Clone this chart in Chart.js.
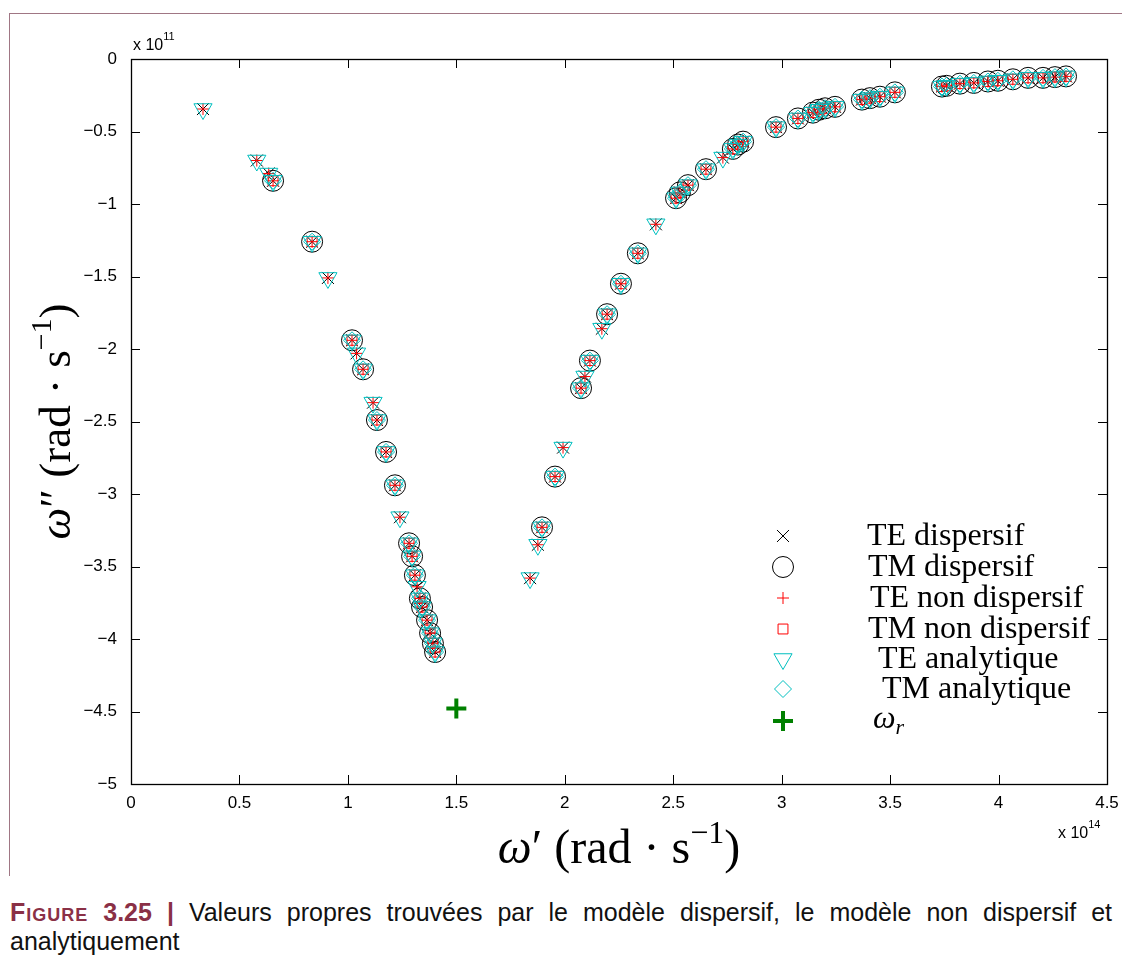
<!DOCTYPE html>
<html>
<head>
<meta charset="utf-8">
<script src="https://cdn.jsdelivr.net/npm/chart.js@4.4.0/dist/chart.umd.min.js"></script>
<style>
  html, body { margin: 0; padding: 0; background: #fff; width: 1122px; height: 971px; overflow: hidden; }
  #frame { position: absolute; left: 9px; top: 13px; width: 1113px; height: 862px;
           border-top: 1px solid #a07684; border-left: 1px solid #a07684; }
  #chart { position: absolute; left: 0; top: 0; }
  #caption { position: absolute; left: 10px; top: 898px; width: 1102px;
             font-family: "Liberation Sans", Arial, sans-serif; font-size: 25px; line-height: 29px;
             color: #111; text-align: justify; }
  .fig { color: #8a3046; font-weight: bold; }
  .sc { font-variant: small-caps; letter-spacing: 1px; }
</style>
</head>
<body>
<div id="frame"></div>
<canvas id="chart" width="1122" height="880"></canvas>
<div id="caption"><span class="fig"><span class="sc">Figure</span> 3.25 |</span> Valeurs propres trouvées par le modèle dispersif, le modèle non dispersif et analytiquement</div>
<script>
// omega' in units of 1e14 rad/s, omega'' in units of 1e11 rad/s
const teRe = [0.332, 0.58, 0.635, 0.655, 0.835, 0.908, 1.019, 1.04, 1.07, 1.116, 1.134, 1.176, 1.217, 1.24,
  1.282, 1.296, 1.309, 1.319, 1.332, 1.342, 1.365, 1.379, 1.392, 1.402,
  1.84, 1.876, 1.895, 1.955, 1.992, 2.075, 2.093, 2.116, 2.171, 2.195, 2.259, 2.337, 2.42,
  2.513, 2.531, 2.568, 2.651, 2.729, 2.775, 2.799, 2.822, 2.974, 3.075, 3.144, 3.172, 3.2, 3.246,
  3.37, 3.407, 3.453, 3.522, 3.739, 3.76, 3.822, 3.886, 3.951, 3.997, 4.066, 4.136, 4.205, 4.26, 4.311];
const teIm = [-0.345, -0.70, -0.79, -0.84, -1.26, -1.51, -1.94, -2.03, -2.14, -2.37, -2.49, -2.71, -2.94, -3.16,
  -3.34, -3.43, -3.56, -3.64, -3.72, -3.78, -3.87, -3.96, -4.03, -4.09,
  -3.58, -3.35, -3.23, -2.88, -2.68, -2.27, -2.19, -2.08, -1.86, -1.76, -1.55, -1.34, -1.14,
  -0.96, -0.92, -0.87, -0.76, -0.68, -0.62, -0.59, -0.57, -0.47, -0.41, -0.37, -0.35, -0.34, -0.33,
  -0.28, -0.27, -0.26, -0.23, -0.19, -0.185, -0.17, -0.165, -0.155, -0.15, -0.14, -0.13, -0.13, -0.125, -0.12];

const tmRe = [0.655, 0.835, 1.019, 1.07, 1.134, 1.176, 1.217,
  1.282, 1.296, 1.309, 1.332, 1.342, 1.365, 1.379, 1.392, 1.402,
  1.895, 1.955, 2.075, 2.116, 2.195, 2.259, 2.337,
  2.513, 2.531, 2.568, 2.651, 2.775, 2.799, 2.822, 2.974, 3.075, 3.144, 3.172, 3.2, 3.246,
  3.37, 3.407, 3.453, 3.522, 3.739, 3.76, 3.822, 3.886, 3.951, 3.997, 4.066, 4.136, 4.205, 4.26, 4.311];
const tmIm = [-0.84, -1.26, -1.94, -2.14, -2.49, -2.71, -2.94,
  -3.34, -3.43, -3.56, -3.72, -3.78, -3.87, -3.96, -4.03, -4.09,
  -3.23, -2.88, -2.27, -2.08, -1.76, -1.55, -1.34,
  -0.96, -0.92, -0.87, -0.76, -0.62, -0.59, -0.57, -0.47, -0.41, -0.37, -0.35, -0.34, -0.33,
  -0.28, -0.27, -0.26, -0.23, -0.19, -0.185, -0.17, -0.165, -0.155, -0.15, -0.14, -0.13, -0.13, -0.125, -0.12];

const resRe = [1.5];
const resIm = [-4.48];

const seriesNames = ['TE dispersif', 'TM dispersif', 'TE non dispersif', 'TM non dispersif',
  'TE analytique', 'TM analytique', 'ωr'];

const xTickValues = [0, 0.5, 1, 1.5, 2, 2.5, 3, 3.5, 4, 4.5];
const yTickValues = [0, -0.5, -1, -1.5, -2, -2.5, -3, -3.5, -4, -4.5, -5];

const toPoints = (xs, ys) => xs.map((x, i) => ({ x: x, y: ys[i] }));
const te = toPoints(teRe, teIm);
const tm = toPoints(tmRe, tmIm);
const res = toPoints(resRe, resIm);

const CYAN = '#00bfbf';

function marker(label, data, style, radius, color, width, rotation, order) {
  return {
    label: label, data: data, order: order,
    pointStyle: style, pointRadius: radius, pointRotation: rotation || 0,
    pointBorderColor: color, pointBackgroundColor: 'rgba(0,0,0,0)', pointBorderWidth: width,
    borderColor: color, backgroundColor: 'rgba(0,0,0,0)', showLine: false
  };
}

const datasets = [
  marker(seriesNames[0], te, 'crossRot', 8.5, '#000', 1, 0, 7),
  marker(seriesNames[1], tm, 'circle', 10.5, '#000', 1, 0, 6),
  marker(seriesNames[2], te, 'cross', 6, '#ff0000', 1, 0, 5),
  marker(seriesNames[3], tm, 'rect', 7, '#ff0000', 1, 0, 4),
  marker(seriesNames[4], te, 'triangle', 10.5, CYAN, 1, 180, 3),
  marker(seriesNames[5], tm, 'rectRot', 8.5, CYAN, 1, 0, 2),
  marker(seriesNames[6], res, 'cross', 10, '#008000', 4, 0, 1)
];

const fmt = v => {
  const r = Math.round(v * 10) / 10;
  return r < 0 ? '\u2212' + Math.abs(r) : String(r);
};

// draws a run of [text, font, dy] pieces starting at x
function drawRuns(ctx, runs, x, y) {
  runs.forEach(r => {
    ctx.font = r[1];
    ctx.fillText(r[0], x, y + (r[2] || 0));
    x += ctx.measureText(r[0]).width;
  });
}
function runsWidth(ctx, runs) {
  let w = 0;
  runs.forEach(r => { ctx.font = r[1]; w += ctx.measureText(r[0]).width; });
  return w;
}

const SERIF = '"Liberation Serif", "Times New Roman", serif';
const SANS = '"Liberation Sans", Arial, sans-serif';

const axesDecor = {
  id: 'axesDecor',
  afterDraw(chart) {
    const ctx = chart.ctx;
    const a = chart.chartArea;
    const xs = chart.scales.x, ys = chart.scales.y;
    ctx.save();
    ctx.strokeStyle = '#000';
    ctx.lineWidth = 1.3;
    ctx.strokeRect(a.left + 0.5, a.top + 0.5, a.right - a.left, a.bottom - a.top);

    // inward tick marks on all four sides
    const tl = 9;
    ctx.lineWidth = 1;
    ctx.beginPath();
    xTickValues.forEach(v => {
      const px = Math.round(xs.getPixelForValue(v)) + 0.5;
      ctx.moveTo(px, a.bottom); ctx.lineTo(px, a.bottom - tl);
      ctx.moveTo(px, a.top); ctx.lineTo(px, a.top + tl);
    });
    yTickValues.forEach(v => {
      const py = Math.round(ys.getPixelForValue(v)) + 0.5;
      ctx.moveTo(a.left, py); ctx.lineTo(a.left + tl, py);
      ctx.moveTo(a.right, py); ctx.lineTo(a.right - tl, py);
    });
    ctx.stroke();

    // exponent labels
    ctx.fillStyle = '#000';
    ctx.textBaseline = 'alphabetic';
    ctx.textAlign = 'left';
    drawRuns(ctx, [['x 10', '16px ' + SANS], ['11', '11px ' + SANS, -10]], a.left + 2, a.top - 9);
    drawRuns(ctx, [['x 10', '16px ' + SANS], ['14', '11px ' + SANS, -10]], a.right - 49, a.bottom + 54);

    // axis titles
    const xt = [['ω', 'italic 48px ' + SERIF], ['\u2032 (rad \u00b7 s', '48px ' + SERIF], ['\u22121', '32px ' + SERIF, -20], [')', '48px ' + SERIF]];
    const cx = (a.left + a.right) / 2;
    drawRuns(ctx, xt, cx - runsWidth(ctx, xt) / 2, 863);

    const yt = [['ω', 'italic 45px ' + SERIF], ['\u2033 (rad \u00b7 s', '45px ' + SERIF], ['\u22121', '30px ' + SERIF, -19], [')', '45px ' + SERIF]];
    ctx.save();
    ctx.translate(70, (a.top + a.bottom) / 2);
    ctx.rotate(-Math.PI / 2);
    drawRuns(ctx, yt, -runsWidth(ctx, yt) / 2, 0);
    ctx.restore();

    // legend (no box)
    const lx = 783;
    const rowY = [536, 567, 598, 629, 659, 689, 721];
    const textX = [867, 868, 870, 868, 878, 882, 873];
    const lf = '32px ' + SERIF;
    chart.data.datasets.forEach((ds, i) => {
      ctx.save();
      ctx.strokeStyle = ds.pointBorderColor;
      ctx.fillStyle = 'rgba(0,0,0,0)';
      ctx.lineWidth = ds.pointBorderWidth;
      Chart.helpers.drawPoint(ctx, {
        pointStyle: ds.pointStyle, radius: ds.pointRadius,
        rotation: ds.pointRotation, borderWidth: ds.pointBorderWidth
      }, lx, rowY[i]);
      ctx.restore();
      ctx.fillStyle = '#000';
      ctx.textBaseline = 'alphabetic';
      if (i === 6) {
        drawRuns(ctx, [['ω', 'italic 32px ' + SERIF], ['r', 'italic 22px ' + SERIF, 6]], textX[i], rowY[i] + 7);
      } else {
        ctx.font = lf;
        ctx.fillText(ds.label, textX[i], rowY[i] + 9);
      }
    });
    ctx.restore();
  }
};

new Chart(document.getElementById('chart').getContext('2d'), {
  type: 'scatter',
  data: { datasets: datasets },
  options: {
    responsive: false,
    animation: false,
    devicePixelRatio: 1,
    events: [],
    layout: { padding: { top: 59, right: 15, left: 0, bottom: 0 } },
    plugins: { legend: { display: false }, tooltip: { enabled: false } },
    scales: {
      x: {
        type: 'linear', min: 0, max: 4.5,
        afterBuildTicks: s => { s.ticks = xTickValues.map(v => ({ value: v })); },
        afterFit: s => { s.height = 96; s.paddingLeft = 0; s.paddingRight = 0; },
        grid: { display: false, drawTicks: false },
        border: { display: false },
        ticks: { color: '#000', font: { family: SANS, size: 17 }, padding: 9, maxRotation: 0, autoSkip: false, callback: fmt }
      },
      y: {
        type: 'linear', min: -5, max: 0,
        afterBuildTicks: s => { s.ticks = yTickValues.map(v => ({ value: v })); },
        afterFit: s => { s.width = 131; s.paddingTop = 0; s.paddingBottom = 0; },
        grid: { display: false, drawTicks: false },
        border: { display: false },
        ticks: { color: '#000', font: { family: SANS, size: 17 }, padding: 14, autoSkip: false, callback: fmt }
      }
    }
  },
  plugins: [axesDecor]
});
</script>
</body>
</html>
